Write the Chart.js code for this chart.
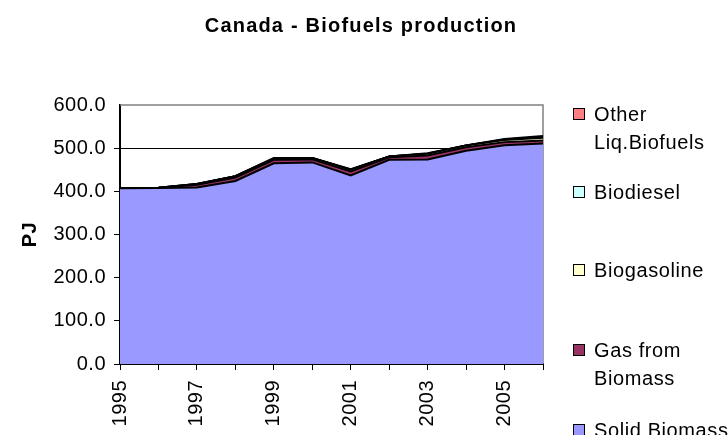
<!DOCTYPE html>
<html>
<head>
<meta charset="utf-8">
<script src="https://cdn.jsdelivr.net/npm/chart.js@4.4.1/dist/chart.umd.min.js"></script>
<style>
  html, body { margin: 0; padding: 0; background: #fff; }
  #wrap { position: relative; width: 728px; height: 435px; overflow: hidden; font-family: "Liberation Sans", Arial, sans-serif; }
  #c { position: absolute; left: 0; top: 0; }
  #title { position: absolute; left: 0; top: 14px; width: 722px; text-align: center; font-weight: bold; font-size: 20px; line-height: 22px; letter-spacing: 1.2px; color: #000; }
  .lg { position: absolute; left: 573px; font-size: 20px; line-height: 28px; letter-spacing: 0.6px; color: #000; }
  .lg .sq { position: absolute; left: 0; top: 8px; width: 10px; height: 10px; border: 1.5px solid #000; }
  .lg .tx { position: absolute; left: 21px; top: 0; white-space: nowrap; }
</style>
</head>
<body>
<div id="wrap">
  <canvas id="c" width="728" height="435"></canvas>
  <div id="title">Canada - Biofuels production</div>
</div>
<script>
// ---- data ----
const years = ["1995","1996","1997","1998","1999","2000","2001","2002","2003","2004","2005","2006"];
const solidBiomass   = [407, 408, 409, 424, 465, 467, 437, 473, 474, 494, 507, 511];
const gasFromBiomass = [0, 0.5, 6, 8, 8, 7, 9, 6, 9, 8, 7, 7];
const biogasoline    = [0, 0, 2, 3, 3, 3, 4, 2, 4, 4, 5, 6];
const biodiesel      = [0, 0, 0, 0, 0, 0, 0, 0, 0, 0, 1, 2];
const otherLiqBiofuels = [0, 0, 0, 0, 1, 0, 1, 0, 1, 0, 1, 2];
const yTicks = [0, 100, 200, 300, 400, 500, 600];

const seriesNames = ["Solid Biomass", "Gas from Biomass", "Biogasoline", "Biodiesel", "Other Liq.Biofuels"];
const seriesValues = [solidBiomass, gasFromBiomass, biogasoline, biodiesel, otherLiqBiofuels];
const seriesColors = ["#9999FF", "#993366", "#FFFFCC", "#CCFFFF", "#FF8080"];
const legendText = ["Solid Biomass", "Gas from<br>Biomass", "Biogasoline", "Biodiesel", "Other<br>Liq.Biofuels"];
// legend layout (top offsets of each entry, px)
const legendTop = [416, 336, 256, 178, 100];

const FONT = "'Liberation Sans', Arial, sans-serif";

const datasets = seriesNames.map((n, i) => ({
  label: n,
  data: seriesValues[i],
  backgroundColor: seriesColors[i],
  borderColor: "#000",
  borderWidth: 2,
  pointRadius: 0,
  tension: 0,
  fill: i === 0 ? "origin" : "-1"
}));

const spacingPlugin = {
  id: "spacing",
  beforeLayout(c) { c.ctx.letterSpacing = "0.5px"; },
  beforeDraw(c) { c.ctx.letterSpacing = "0.5px"; },
  beforeDatasetsDraw(c) {
    const a = c.chartArea, ctx = c.ctx;
    ctx.save();
    ctx.strokeStyle = "#808080";
    ctx.lineWidth = 1.5;
    ctx.beginPath();
    ctx.moveTo(a.left, a.top);
    ctx.lineTo(a.right, a.top);
    ctx.lineTo(a.right, a.bottom);
    ctx.stroke();
    ctx.restore();
  }
};

new Chart(document.getElementById("c"), {
  type: "line",
  data: { labels: years, datasets },
  plugins: [spacingPlugin],
  options: {
    responsive: false,
    animation: false,
    layout: { padding: { left: 0, top: 105, right: 185, bottom: 0 } },
    plugins: { legend: { display: false }, tooltip: { enabled: false }, title: { display: false } },
    scales: {
      x: {
        type: "category",
        offset: false,
        grid: { display: true, drawOnChartArea: false, drawTicks: true, tickLength: 6, color: "#000", lineWidth: 1 },
        border: { display: true, color: "#000", width: 2 },
        ticks: {
          autoSkip: false, minRotation: 90, maxRotation: 90, padding: 10,
          color: "#000", font: { family: FONT, size: 20 },
          callback: function (v, i) { return i % 2 === 0 ? years[i] : ""; }
        },
        afterFit(s) { s.height = 71; }
      },
      y: {
        stacked: true,
        min: 0, max: 600,
        afterBuildTicks(s) { s.ticks = yTicks.map(v => ({ value: v })); },
        grid: {
          drawTicks: true, tickLength: 6, lineWidth: 1,
          color: ctx => (ctx.tick && ctx.tick.value === 600) ? "rgba(0,0,0,0)" : "#000"
        },
        border: { display: true, color: "#000", width: 2 },
        ticks: {
          padding: 8, color: "#000", font: { family: FONT, size: 20 },
          callback: v => Number(v).toFixed(1)
        },
        title: { display: true, text: "PJ", color: "#000", font: { family: FONT, size: 20, weight: "bold" }, padding: { top: 18, bottom: 0 } },
        afterFit(s) { s.width = 120; }
      }
    }
  }
});

// legend
const wrap = document.getElementById("wrap");
for (let i = seriesNames.length - 1; i >= 0; i--) {
  const d = document.createElement("div");
  d.className = "lg";
  d.style.top = legendTop[i] + "px";
  d.innerHTML = '<div class="sq" style="background:' + seriesColors[i] + '"></div><div class="tx">' + legendText[i] + '</div>';
  wrap.appendChild(d);
}
</script>
</body>
</html>
